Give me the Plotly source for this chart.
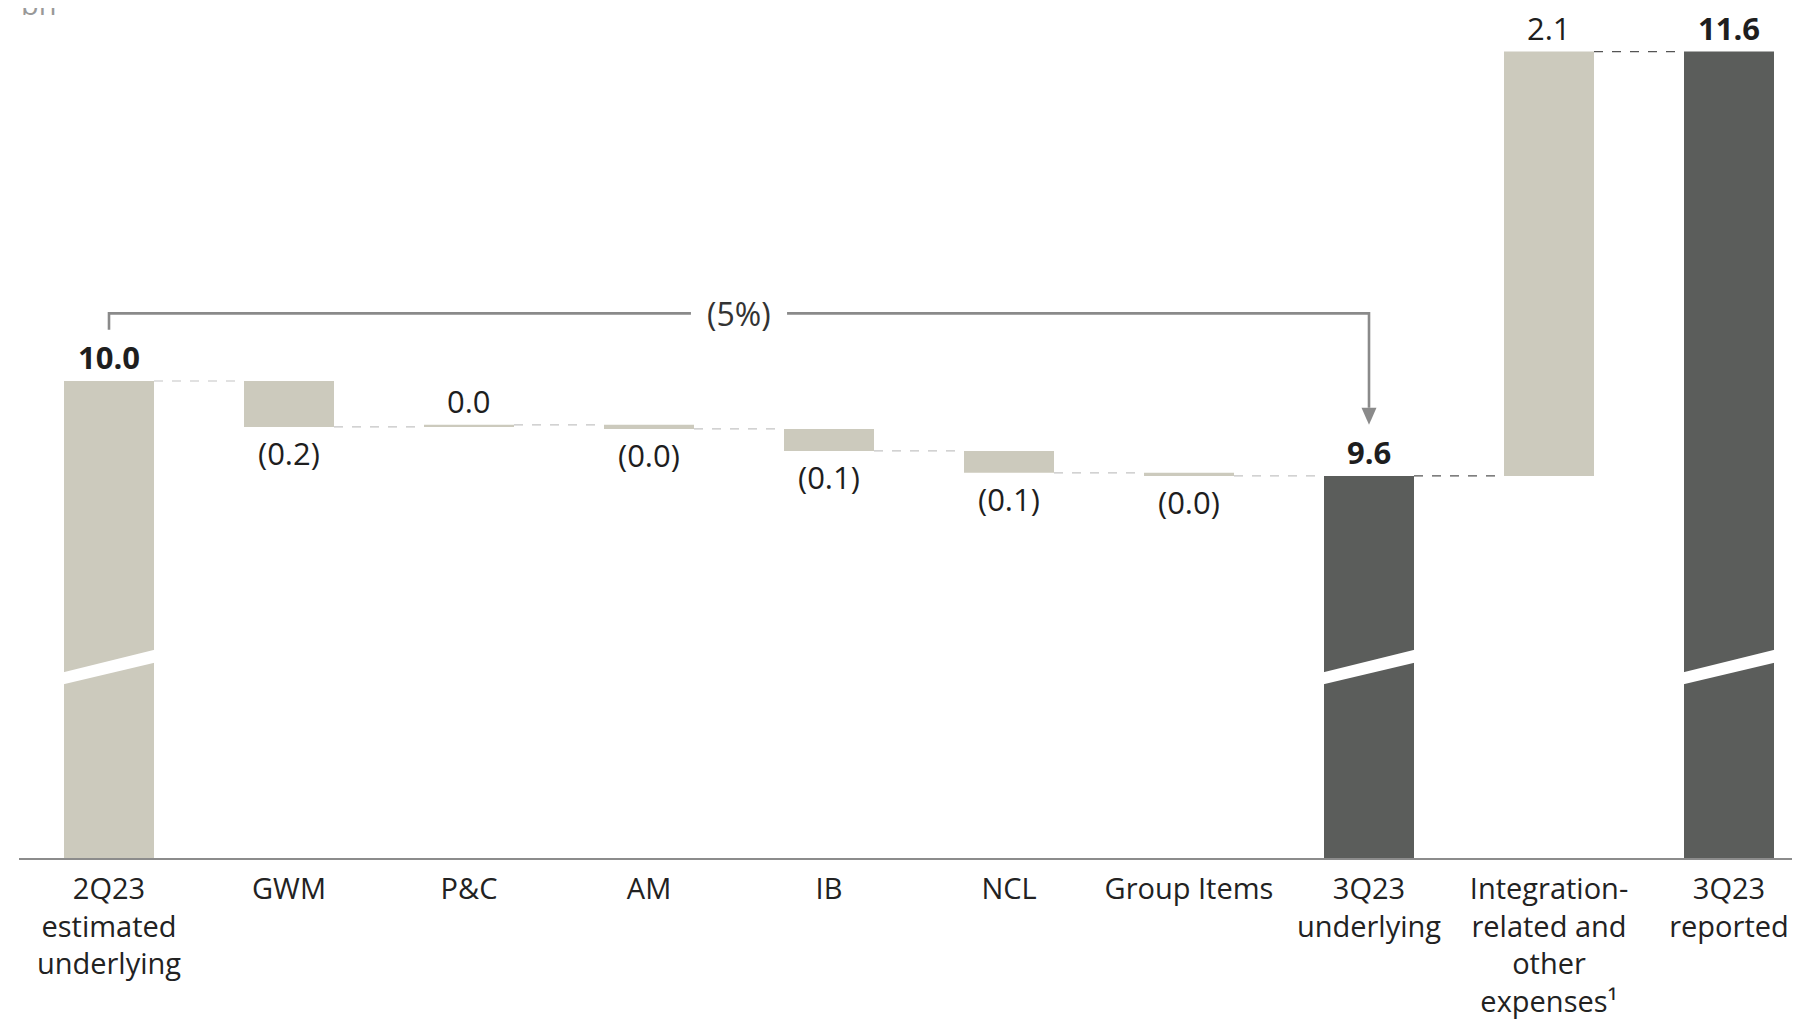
import plotly.graph_objects as go

# ---------------- data ----------------
categories = ["2Q23<br>estimated<br>underlying", "GWM", "P&C", "AM", "IB", "NCL",
              "Group Items", "3Q23<br>underlying",
              "Integration-<br>related and<br>other<br>expenses¹", "3Q23<br>reported"]
measures = ["absolute", "relative", "relative", "relative", "relative", "relative",
            "relative", "total", "relative", "total"]
deltas = [10.02, -0.224, 0.01, -0.02, -0.107, -0.107, -0.015, None, 2.07, None]
bracket_label = "(5%)"
unit_label = "bn"

# ---------------- style ----------------
LIGHT = "#CCCABD"
DARK = "#5B5D5B"
FONT = "Open Sans"
TXT = "#1e1e1e"
GRAY = "#8a8a8a"

# compute bars
bases, heights, colors, tops, bottoms, totals_run = [], [], [], [], [], []
run = 0.0
for m, d in zip(measures, deltas):
    if m == "absolute":
        run = d
        bases.append(0); heights.append(d); colors.append(LIGHT)
        tops.append(d); bottoms.append(0)
    elif m == "total":
        bases.append(0); heights.append(run); colors.append(DARK)
        tops.append(run); bottoms.append(0)
    else:
        start = run
        run = run + d
        bases.append(min(start, run)); heights.append(abs(d)); colors.append(LIGHT)
        tops.append(max(start, run)); bottoms.append(min(start, run))
    totals_run.append(run)

x = list(range(len(categories)))
px_per_unit = 205.0
plot_h = 850
y_lo = deltas[0] - (858 - 381) / px_per_unit
y_hi = y_lo + plot_h / px_per_unit

fig = go.Figure()
fig.add_trace(go.Bar(x=x, y=heights, base=bases, marker=dict(color=colors, line=dict(width=0)),
                     width=0.5, hoverinfo="skip", showlegend=False))

annotations = []
# value labels
for i, (m, d) in enumerate(zip(measures, deltas)):
    v = totals_run[i] if m == "total" else d
    bold = m in ("absolute", "total")
    if v < 0:
        txt = "(%.1f)" % abs(v)
        yv, ys = bottoms[i], -26
    else:
        txt = "%.1f" % v
        yv, ys = tops[i], 24
    if bold:
        txt = "<b>%s</b>" % txt
    annotations.append(dict(x=i, y=yv, xref="x", yref="y", text=txt, showarrow=False,
                            yanchor="middle", yshift=ys,
                            font=dict(family=FONT, size=31, color=TXT)))

shapes = []
# connectors
for i in range(len(x) - 1):
    lvl = totals_run[i]
    dark = i >= 7
    shapes.append(dict(type="line", xref="x", yref="y", x0=i + 0.25, x1=i + 0.75,
                       y0=lvl, y1=lvl,
                       line=dict(color="#555555" if dark else "#c4c4c4", width=1.2, dash="dash")))

# axis break stripes on full bars
b_ul, b_ur, b_lr, b_ll = y_lo + 0.902, y_lo + 1.0195, y_lo + 0.956, y_lo + 0.844
for i, m in enumerate(measures):
    if m in ("absolute", "total"):
        xl, xr = i - 0.27, i + 0.27
        path = "M %f,%f L %f,%f L %f,%f L %f,%f Z" % (xl, b_ul, xr, b_ur, xr, b_lr, xl, b_ll)
        shapes.append(dict(type="path", xref="x", yref="y", path=path,
                           fillcolor="white", line=dict(width=0)))

# bracket
i_end = measures.index("total")
lvl_b = deltas[0] + 0.33
left_bottom = deltas[0] + 0.25
tip = totals_run[i_end] + 0.25
head_h = 17 / px_per_unit
gap = 0.267
mid = (0 + i_end) / 2
lc = dict(color=GRAY, width=2.6)
shapes.append(dict(type="path", xref="x", yref="y",
                   path="M 0,%f L 0,%f L %f,%f" % (left_bottom, lvl_b, mid - gap, lvl_b), line=lc))
shapes.append(dict(type="path", xref="x", yref="y",
                   path="M %f,%f L %d,%f L %d,%f" % (mid + gap, lvl_b, i_end, lvl_b, i_end, tip + head_h), line=lc))
hw = 7.5 / 180
shapes.append(dict(type="path", xref="x", yref="y",
                   path="M %f,%f L %f,%f L %f,%f Z" % (i_end - hw, tip + head_h, i_end + hw, tip + head_h, i_end, tip),
                   fillcolor=GRAY, line=dict(width=0)))
annotations.append(dict(x=mid, y=lvl_b, xref="x", yref="y", text=bracket_label, showarrow=False,
                        yanchor="middle", font=dict(family=FONT, size=32, color="#333333")))

# unit label
annotations.append(dict(x=0.0, y=1, xref="paper", yref="paper", text=unit_label, showarrow=False,
                        xanchor="left", yanchor="bottom", yshift=-17,
                        font=dict(family=FONT, size=29, color="#999999")))

fig.update_layout(
    width=1800, height=1021,
    margin=dict(l=11, r=8, t=0, b=1021 - plot_h),
    plot_bgcolor="white", paper_bgcolor="white",
    shapes=shapes, annotations=annotations,
    xaxis=dict(range=[-0.5, -0.5 + 1781 / 180], tickmode="array", tickvals=x, ticktext=categories,
               showline=True, linecolor="#8c8c8c", linewidth=2, showgrid=False, zeroline=False,
               ticks="outside", ticklen=4, tickcolor="rgba(0,0,0,0)",
               tickfont=dict(family=FONT, size=29, color="#222222")),
    yaxis=dict(range=[y_lo, y_hi], visible=False, showgrid=False, zeroline=False),
)

fig.write_html("out.html")
